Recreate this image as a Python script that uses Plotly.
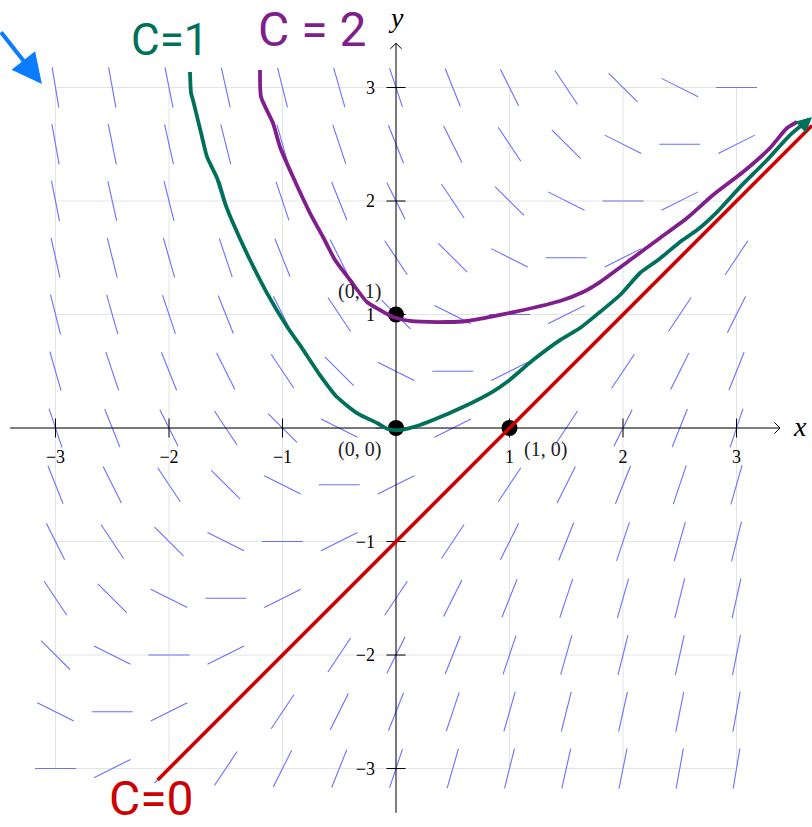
import math
import plotly.graph_objects as go

# slope field, rows y=3 ... y=-3, columns x=-3 ... x=3
field_x = [-3, -2.5, -2, -1.5, -1, -0.5, 0, 0.5, 1, 1.5, 2, 2.5, 3]
field_y = [3, 2.5, 2, 1.5, 1, 0.5, 0, -0.5, -1, -1.5, -2, -2.5, -3]
slopes = [
    [-6, -5.5, -5, -4.5, -4, -3.5, -3, -2.5, -2, -1.5, -1, -0.5, 0],
    [-5.5, -5, -4.5, -4, -3.5, -3, -2.5, -2, -1.5, -1, -0.5, 0, 0.5],
    [-5, -4.5, -4, -3.5, -3, -2.5, -2, -1.5, -1, -0.5, 0, 0.5, 1],
    [-4.5, -4, -3.5, -3, -2.5, -2, -1.5, -1, -0.5, 0, 0.5, 1, 1.5],
    [-4, -3.5, -3, -2.5, -2, -1.5, -1, -0.5, 0, 0.5, 1, 1.5, 2],
    [-3.5, -3, -2.5, -2, -1.5, -1, -0.5, 0, 0.5, 1, 1.5, 2, 2.5],
    [-3, -2.5, -2, -1.5, -1, -0.5, 0, 0.5, 1, 1.5, 2, 2.5, 3],
    [-2.5, -2, -1.5, -1, -0.5, 0, 0.5, 1, 1.5, 2, 2.5, 3, 3.5],
    [-2, -1.5, -1, -0.5, 0, 0.5, 1, 1.5, 2, 2.5, 3, 3.5, 4],
    [-1.5, -1, -0.5, 0, 0.5, 1, 1.5, 2, 2.5, 3, 3.5, 4, 4.5],
    [-1, -0.5, 0, 0.5, 1, 1.5, 2, 2.5, 3, 3.5, 4, 4.5, 5],
    [-0.5, 0, 0.5, 1, 1.5, 2, 2.5, 3, 3.5, 4, 4.5, 5, 5.5],
    [0, 0.5, 1, 1.5, 2, 2.5, 3, 3.5, 4, 4.5, 5, 5.5, 6],
]

# hand drawn solution curves
c1_x = [-1.815, -1.806, -1.789, -1.709, -1.665, -1.577, -1.507, -1.436, -1.286, -1.137, -0.952, -0.846,
        -0.670, -0.520, -0.344, -0.167, -0.070, 0.035, 0.185, 0.326, 0.590, 0.846, 0.978, 1.207, 1.445,
        1.621, 1.797, 1.974, 2.150, 2.308, 2.502, 2.652, 2.828, 3.031, 3.269, 3.471, 3.640]
c1_y = [3.137, 2.952, 2.890, 2.564, 2.388, 2.203, 1.982, 1.806, 1.480, 1.189, 0.881, 0.731,
        0.467, 0.273, 0.132, 0.044, -0.009, -0.018, 0.018, 0.070, 0.185, 0.317, 0.405, 0.599, 0.775,
        0.881, 1.022, 1.172, 1.366, 1.480, 1.639, 1.744, 1.903, 2.123, 2.361, 2.581, 2.720]
c2_x = [-1.198, -1.189, -1.084, -1.022, -0.907, -0.758, -0.643, -0.537, -0.405, -0.256, -0.141, -0.026,
        0.123, 0.449, 0.626, 0.916, 1.445, 1.648, 1.797, 2.062, 2.326, 2.564, 2.793, 3.057, 3.295, 3.445, 3.533]
c2_y = [3.154, 2.916, 2.687, 2.476, 2.211, 1.894, 1.683, 1.480, 1.304, 1.110, 1.040, 0.978,
        0.943, 0.934, 0.943, 0.996, 1.119, 1.198, 1.286, 1.480, 1.674, 1.850, 2.053, 2.256, 2.467, 2.643, 2.696]
c0_x = [-2.1, 3.665]
c0_y = [-3.1, 2.665]

point_x = [0, 0, 1]
point_y = [0, 1, 0]
point_labels = ["(0, 0)", "(0, 1)", "(1, 0)"]

tick_vals = [-3, -2, -1, 1, 2, 3]
tick_text = ["−3", "−2", "−1", "1", "2", "3"]
grid_vals = [-3, -2, -1, 0, 1, 2, 3]

GREEN = "#00705a"
PURPLE = "#7f1f8c"
RED = "#cc0000"
BLUE = "#0a7cff"
FIELD = "#6e6eff"
SERIF = "Liberation Serif"
HAND = "Roboto"

fig = go.Figure()

# grid
gx, gy = [], []
for v in grid_vals:
    gx += [v, v, None, -3, 3, None]
    gy += [-3, 3, None, v, v, None]
fig.add_trace(go.Scatter(x=gx, y=gy, mode="lines", line=dict(color="#e4e4e4", width=1), hoverinfo="skip"))

# slope field
half = 0.18
sx, sy = [], []
for i, yv in enumerate(field_y):
    for j, xv in enumerate(field_x):
        m = slopes[i][j]
        dx = half / math.sqrt(1 + m * m)
        sx += [xv - dx, xv + dx, None]
        sy += [yv - m * dx, yv + m * dx, None]
fig.add_trace(go.Scatter(x=sx, y=sy, mode="lines", line=dict(color=FIELD, width=1.1), hoverinfo="skip"))

# axes with tikz style heads, ticks cross the axis on both sides
ax_x = [-3.40, 3.383, None, 3.333, 3.383, 3.333, None, 0, 0, None, -0.05, 0, 0.05]
ax_y = [0, 0, None, 0.05, 0, -0.05, None, -3.39, 3.39, None, 3.34, 3.39, 3.34]
for v in tick_vals:
    ax_x += [None, v, v, None, -0.084, 0.084]
    ax_y += [None, -0.084, 0.084, None, v, v]
fig.add_trace(go.Scatter(x=ax_x, y=ax_y, mode="lines", line=dict(color="black", width=1), hoverinfo="skip"))

fig.add_trace(go.Scatter(x=point_x, y=point_y, mode="markers",
                         marker=dict(color="black", size=16), hoverinfo="skip"))

curve_shape = dict(shape="spline", smoothing=0.6, width=3.8)
fig.add_trace(go.Scatter(x=c1_x, y=c1_y, mode="lines", line=dict(color=GREEN, **curve_shape)))
fig.add_trace(go.Scatter(x=c2_x, y=c2_y, mode="lines", line=dict(color=PURPLE, **curve_shape)))
fig.add_trace(go.Scatter(x=c0_x, y=c0_y, mode="lines", line=dict(color=RED, width=3.6)))

fig.update_layout(
    width=812, height=827,
    margin=dict(l=0, r=0, t=0, b=0),
    paper_bgcolor="white", plot_bgcolor="white",
    showlegend=False,
    xaxis=dict(range=[-3.489, 3.665], domain=[0, 1], anchor="free", position=0.4825,
               tickmode="array", tickvals=tick_vals, ticktext=tick_text, ticks="",
               ticklabelstandoff=16, showgrid=False, zeroline=False, showline=False,
               tickfont=dict(family=SERIF, size=18, color="black")),
    yaxis=dict(range=[-3.515, 3.771], domain=[0, 1], anchor="free", position=0.4877,
               tickmode="array", tickvals=tick_vals, ticktext=tick_text, ticks="",
               ticklabelstandoff=21, showgrid=False, zeroline=False, showline=False,
               tickfont=dict(family=SERIF, size=18, color="black")),
)

# point labels
label_pos = [(-0.32, -0.185), (-0.32, 1.20), (1.313, -0.19)]
for text, (lx, ly) in zip(point_labels, label_pos):
    fig.add_annotation(x=lx, y=ly, text=text, showarrow=False,
                       font=dict(family=SERIF, size=20, color="#222222"))

# axis names
fig.add_annotation(x=3.56, y=0.01, text="<i>x</i>", showarrow=False, font=dict(family=SERIF, size=28, color="black"))
fig.add_annotation(x=0, y=3.62, text="<i>y</i>", showarrow=False, font=dict(family=SERIF, size=28, color="black"))

# handwritten labels
fig.add_annotation(x=-1.99, y=3.42, text="C=1", showarrow=False, font=dict(family=HAND, size=44, color=GREEN))
fig.add_annotation(x=-0.74, y=3.51, text="C = 2", showarrow=False, font=dict(family=HAND, size=48, color=PURPLE))
fig.add_annotation(x=-2.15, y=-3.26, text="C=0", showarrow=False, font=dict(family=HAND, size=48, color=RED))

# blue arrow top left and the small head on the green curve
fig.add_annotation(x=-3.12, y=3.03, ax=-3.49, ay=3.50, xref="x", yref="y", axref="x", ayref="y",
                   text="", showarrow=True, arrowhead=2, arrowsize=1.5, arrowwidth=4,
                   arrowcolor=BLUE, standoff=0)
fig.add_annotation(x=3.665, y=2.74, ax=3.56, ay=2.645, xref="x", yref="y", axref="x", ayref="y",
                   text="", showarrow=True, arrowhead=2, arrowsize=0.9, arrowwidth=3.4,
                   arrowcolor=GREEN, standoff=0)

fig.write_html("out.html", config=dict(displayModeBar=False),
               post_script="document.body.style.margin='0';document.body.style.overflow='hidden';")
